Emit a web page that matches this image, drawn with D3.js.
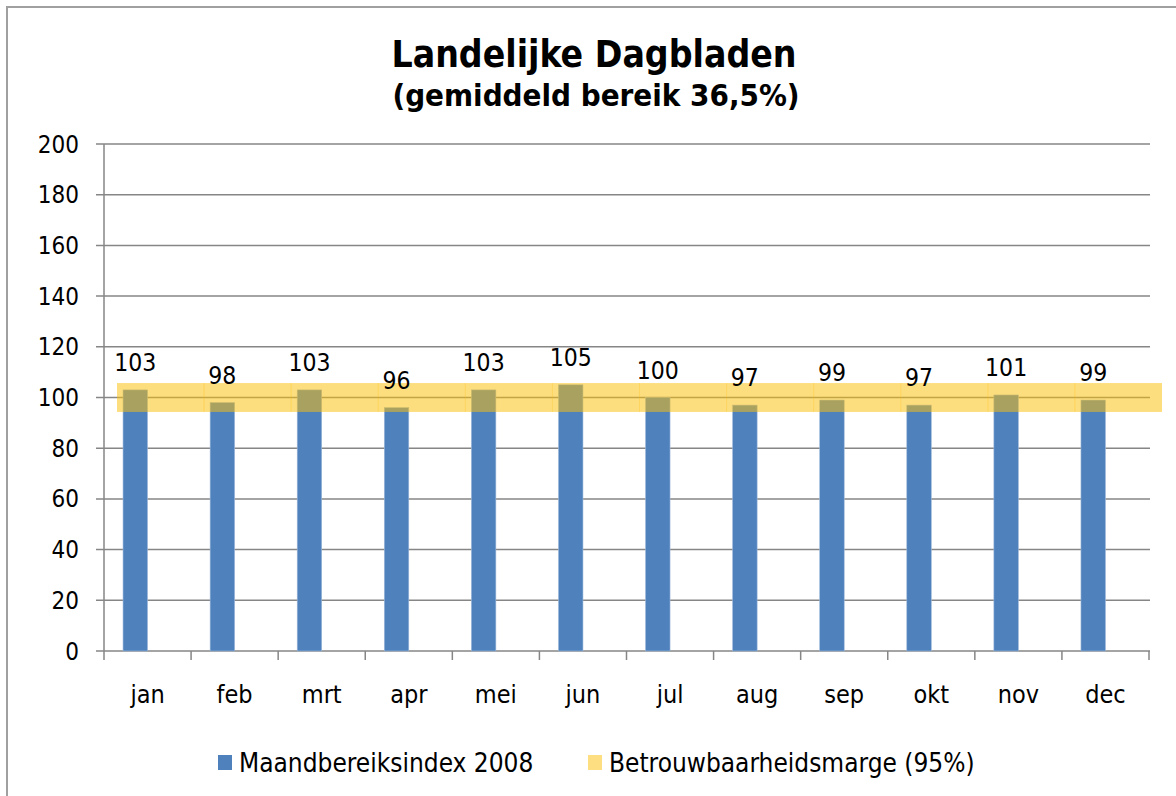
<!DOCTYPE html>
<html>
<head>
<meta charset="utf-8">
<script src="https://cdn.jsdelivr.net/npm/d3@7"></script>
<style>
  body { margin: 0; background: #fff; }
  text { font-family: "DejaVu Sans Condensed", "DejaVu Sans", sans-serif; fill: #000; }
  .title { font-weight: bold; }
</style>
</head>
<body>
<div id="chart"></div>
<script>
// data
const maanden = ["jan","feb","mrt","apr","mei","jun","jul","aug","sep","okt","nov","dec"]
const indexWaarden = [103, 98, 103, 96, 103, 105, 100, 97, 99, 97, 101, 99]
const margeOnder = [94.3, 94.3, 94.3, 94.3, 94.3, 94.3, 94.3, 94.3, 94.3, 94.3, 94.3, 94.3]
const margeBoven = [105.7, 105.7, 105.7, 105.7, 105.7, 105.7, 105.7, 105.7, 105.7, 105.7, 105.7, 105.7]
const yTicks = [0, 20, 40, 60, 80, 100, 120, 140, 160, 180, 200]
const serieNamen = ["Maandbereiksindex 2008", "Betrouwbaarheidsmarge (95%)"]

const W = 1176, H = 796
const plot = { left: 104, right: 1149, top: 144, bottom: 651 }
const blauw = "#4F81BD"
const geel = "rgb(251,191,10)"
const gridKleur = "#868686"

const svg = d3.select("#chart").append("svg")
    .attr("width", W)
    .attr("height", H)

// outer frame
svg.append("path")
    .attr("d", "M7," + H + " V7 H" + W)
    .attr("fill", "none")
    .attr("stroke", "#a0a0a0")
    .attr("stroke-width", 2)

const x = d3.scaleBand().domain(maanden).range([plot.left, plot.right]).padding(0)
const y = d3.scaleLinear().domain([0, 200]).range([plot.bottom, plot.top])

// title
svg.append("text").attr("class", "title")
    .attr("x", 594).attr("y", 67)
    .attr("text-anchor", "middle")
    .style("font-size", "37px")
    .text("Landelijke Dagbladen")
svg.append("text").attr("class", "title")
    .attr("x", 596).attr("y", 106)
    .attr("text-anchor", "middle")
    .style("font-size", "31px")
    .text("(gemiddeld bereik 36,5%)")

// gridlines
svg.append("g").selectAll("line")
    .data(yTicks)
    .enter().append("line")
    .attr("x1", plot.left - 8)
    .attr("x2", plot.right + 1)
    .attr("y1", d => y(d))
    .attr("y2", d => y(d))
    .attr("stroke", gridKleur)
    .attr("stroke-width", 1.5)

// y axis line
svg.append("line")
    .attr("x1", plot.left).attr("x2", plot.left)
    .attr("y1", y(200)).attr("y2", y(0))
    .attr("stroke", gridKleur).attr("stroke-width", 1.5)

// x ticks on band boundaries
const grenzen = maanden.map(m => x(m)).concat([plot.right])
svg.append("g").selectAll("line")
    .data(grenzen)
    .enter().append("line")
    .attr("x1", d => d).attr("x2", d => d)
    .attr("y1", y(0)).attr("y2", y(0) + 9)
    .attr("stroke", gridKleur).attr("stroke-width", 1.5)

// y labels
svg.append("g").selectAll("text")
    .data(yTicks)
    .enter().append("text")
    .attr("x", 79)
    .attr("y", d => y(d) + 8.5)
    .attr("text-anchor", "end")
    .style("font-size", "24px")
    .text(d => d)

// x labels
svg.append("g").selectAll("text")
    .data(maanden)
    .enter().append("text")
    .attr("x", d => x(d) + x.bandwidth() / 2)
    .attr("y", 703)
    .attr("text-anchor", "middle")
    .style("font-size", "25px")
    .text(d => d)

// bars
const barW = 24.5
svg.append("g").selectAll("rect")
    .data(indexWaarden)
    .enter().append("rect")
    .attr("x", (d, i) => x(maanden[i]) + x.bandwidth() / 2 - barW)
    .attr("y", d => y(d))
    .attr("width", barW)
    .attr("height", d => y(0) - y(d))
    .attr("fill", blauw)
    .attr("stroke", "#9db8da")
    .attr("stroke-width", 0.6)

// betrouwbaarheidsmarge band (drawn over bars, translucent)
const bandOffset = 13
svg.append("g").selectAll("rect")
    .data(maanden)
    .enter().append("rect")
    .attr("x", (d, i) => x(d) + bandOffset)
    .attr("y", (d, i) => y(margeBoven[i]))
    .attr("width", x.bandwidth())
    .attr("height", (d, i) => y(margeOnder[i]) - y(margeBoven[i]))
    .attr("fill", geel)
    .attr("fill-opacity", 0.52)
svg.append("g").selectAll("line")
    .data(maanden.slice(1))
    .enter().append("line")
    .attr("x1", d => x(d) + bandOffset).attr("x2", d => x(d) + bandOffset)
    .attr("y1", y(margeBoven[0])).attr("y2", y(margeOnder[0]))
    .attr("stroke", geel).attr("stroke-opacity", 0.35).attr("stroke-width", 1)

// data labels
svg.append("g").selectAll("text")
    .data(indexWaarden)
    .enter().append("text")
    .attr("x", (d, i) => x(maanden[i]) + x.bandwidth() / 2 - barW / 2)
    .attr("y", d => y(d) - 19)
    .attr("text-anchor", "middle")
    .style("font-size", "24.5px")
    .text(d => d)

// legend
const legende = [
    { naam: serieNamen[0], kleur: blauw, x: 218 },
    { naam: serieNamen[1], kleur: "#FDDE80", x: 588 }
]
const lg = svg.append("g").selectAll("g")
    .data(legende)
    .enter().append("g")
lg.append("rect")
    .attr("x", d => d.x).attr("y", 755)
    .attr("width", 14).attr("height", 15)
    .attr("fill", d => d.kleur)
lg.append("text")
    .attr("x", d => d.x + 21).attr("y", 772)
    .style("font-size", "26px")
    .text(d => d.naam)
</script>
</body>
</html>
